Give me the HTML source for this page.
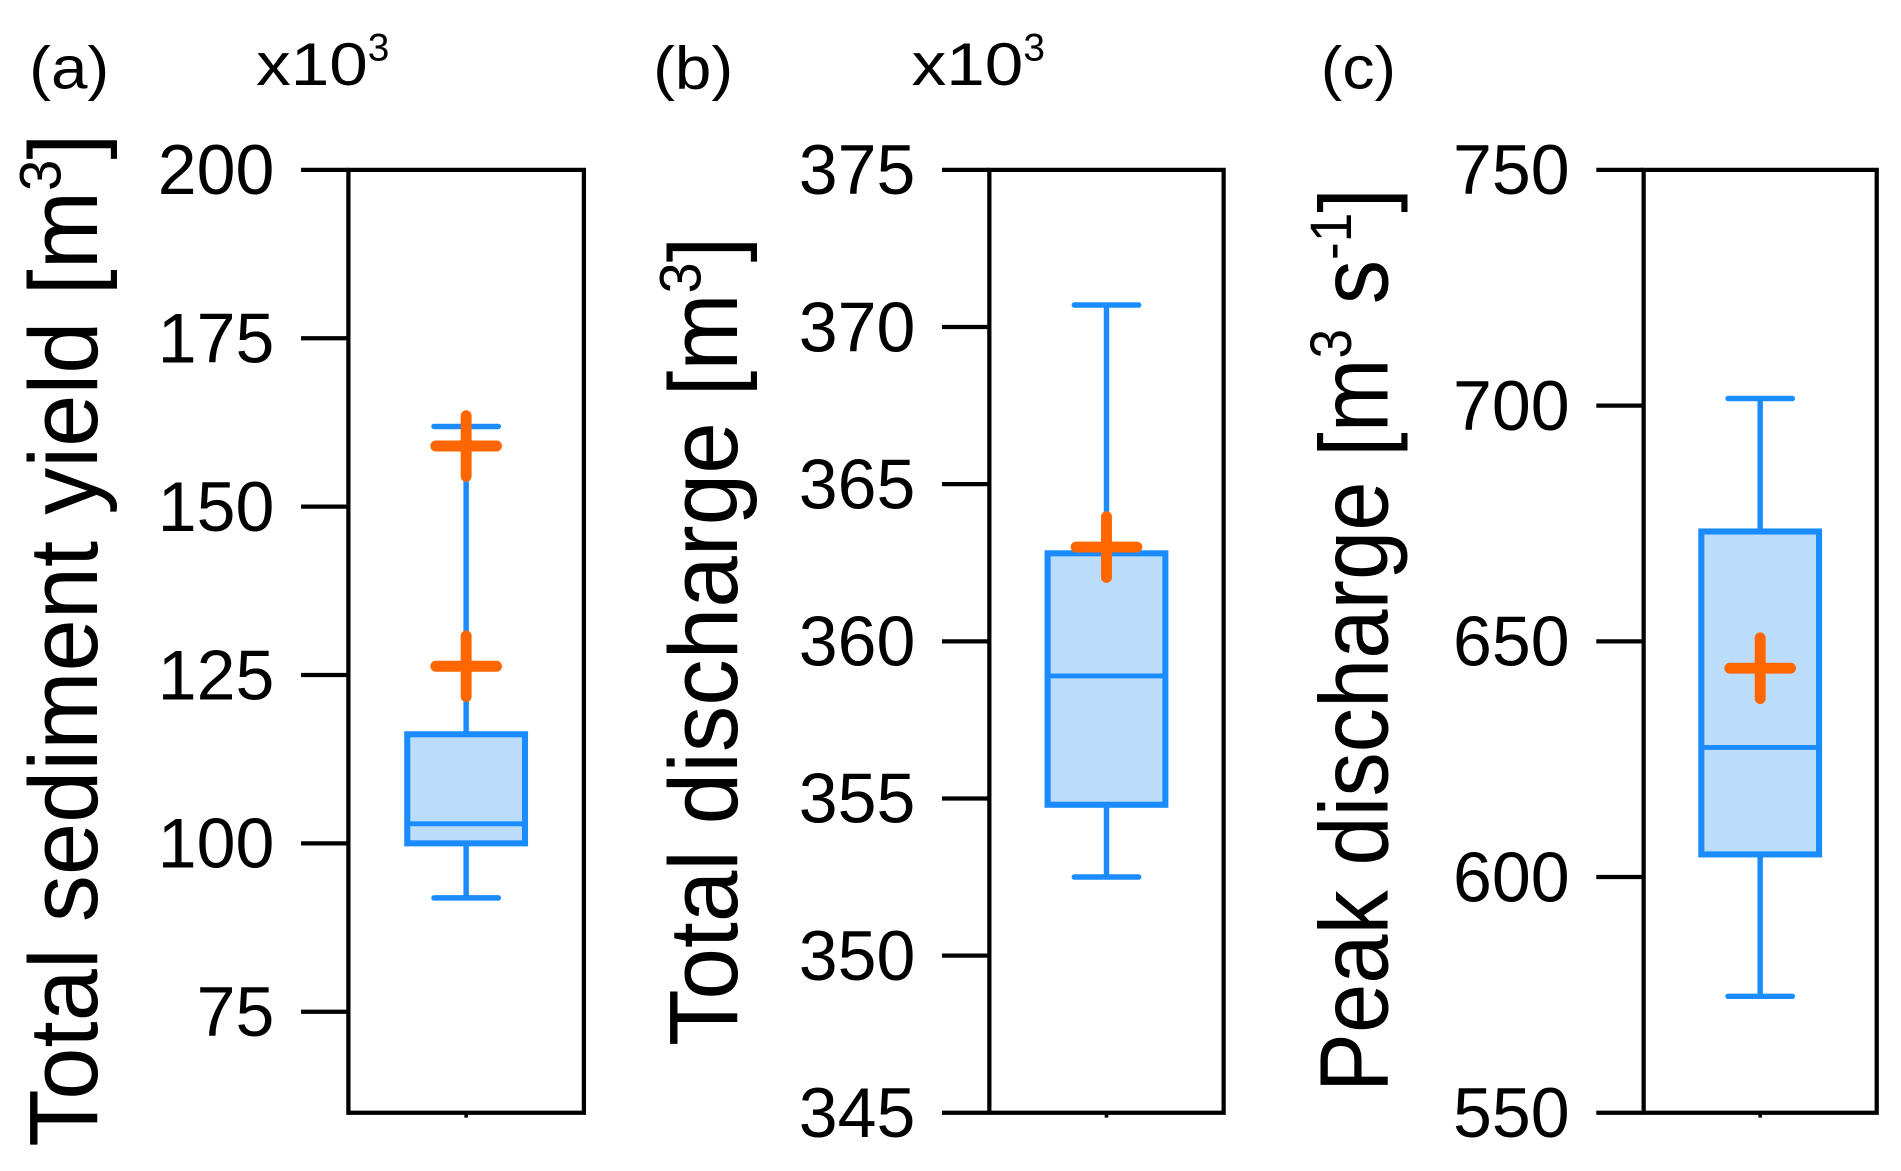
<!DOCTYPE html>
<html><head><meta charset="utf-8"><style>
html,body{margin:0;padding:0;background:#fff;}
svg{display:block;}
text{font-family:"Liberation Sans",sans-serif;fill:#000;}
</style></head><body>
<svg id="chart" width="1901" height="1171" viewBox="0 0 1566 965" preserveAspectRatio="none" xmlns="http://www.w3.org/2000/svg">
<g>
<text x="24" y="73" font-size="50" textLength="66" lengthAdjust="spacingAndGlyphs">(a)</text>
<text x="211" y="70" font-size="50"><tspan textLength="92" lengthAdjust="spacingAndGlyphs">x10</tspan><tspan font-size="32" dy="-20">3</tspan></text>
<text x="538" y="73" font-size="50" textLength="66" lengthAdjust="spacingAndGlyphs">(b)</text>
<text x="751" y="70" font-size="50"><tspan textLength="92" lengthAdjust="spacingAndGlyphs">x10</tspan><tspan font-size="32" dy="-20">3</tspan></text>
<text x="1088" y="73" font-size="50" textLength="62" lengthAdjust="spacingAndGlyphs">(c)</text>
</g>
<text transform="translate(80,945) rotate(-90)" font-size="80" textLength="835" lengthAdjust="spacingAndGlyphs">Total sediment yield [m<tspan font-size="48" dy="-30">3</tspan><tspan dy="30">]</tspan></text>
<text transform="translate(607,862) rotate(-90)" font-size="80" textLength="667" lengthAdjust="spacingAndGlyphs">Total discharge [m<tspan font-size="48" dy="-30">3</tspan><tspan dy="30">]</tspan></text>
<text transform="translate(1143,900) rotate(-90)" font-size="80" textLength="745" lengthAdjust="spacingAndGlyphs">Peak discharge [m<tspan font-size="48" dy="-30">3</tspan><tspan dy="30"> s</tspan><tspan font-size="48" dy="-30">-1</tspan><tspan dy="30">]</tspan></text>
<g id="panels"></g>
</svg>
<script>
// Panel (a): total sediment yield, x10^3 m3
const ticksA = [200, 175, 150, 125, 100, 75];
const boxA = {min: 91.9, q1: 100, median: 102.9, q3: 116.2, max: 161.9};
const plusA = [159, 126.3];
// Panel (b): total discharge, x10^3 m3
const ticksB = [375, 370, 365, 360, 355, 350, 345];
const boxB = {min: 352.5, q1: 354.8, median: 358.9, q3: 362.8, max: 370.7};
const plusB = [363];
// Panel (c): peak discharge m3/s
const ticksC = [750, 700, 650, 600, 550];
const boxC = {min: 574.7, q1: 604.8, median: 627.5, q3: 673.3, max: 701.5};
const plusC = [644.3];

const NS = 'http://www.w3.org/2000/svg';
const root = document.getElementById('panels');
const TOP = 140, BOT = 917;
function mk(tag, attrs, parent) {
  const e = document.createElementNS(NS, tag);
  for (const k in attrs) e.setAttribute(k, attrs[k]);
  parent.appendChild(e);
  return e;
}
function panel(id, left, right, yMin, yMax, ticks, box, pluses) {
  const g = mk('g', {}, root);
  
  
  const y = v => BOT - (v - yMin) / (yMax - yMin) * (BOT - TOP);
  const cx = (left + right) / 2;
  const blue = '#1a8cff';
  ticks.forEach(t => {
    const tl = mk('line', {x1: left - 39, x2: left, y1: y(t), y2: y(t), stroke: '#000', 'stroke-width': 3.5}, g);
    
    
    const s = String(t);
    const tx = mk('text', {x: left - 61, y: y(t) + 20, 'font-size': 58, 'text-anchor': 'end', textLength: 32 * s.length, lengthAdjust: 'spacingAndGlyphs'}, g);
    tx.textContent = s;
    
    
  });
  const frame = mk('rect', {x: left, y: TOP, width: right - left, height: BOT - TOP, fill: 'none', stroke: '#000', 'stroke-width': 3.5}, g);
  
  
  const xt = mk('line', {x1: cx, x2: cx, y1: BOT, y2: BOT + 4, stroke: '#000', 'stroke-width': 3}, g);
  
  
  const bw = 97, cw = 53;
  const wh = mk('line', {x1: cx, x2: cx, y1: y(box.q3), y2: y(box.max), stroke: blue, 'stroke-width': 4.5}, g);
  
  
  const wl = mk('line', {x1: cx, x2: cx, y1: y(box.q1), y2: y(box.min), stroke: blue, 'stroke-width': 4.5}, g);
  
  
  const ch = mk('line', {x1: cx - cw/2, x2: cx + cw/2, y1: y(box.max), y2: y(box.max), stroke: blue, 'stroke-width': 4.5, 'stroke-linecap': 'round'}, g);
  
  
  const cl = mk('line', {x1: cx - cw/2, x2: cx + cw/2, y1: y(box.min), y2: y(box.min), stroke: blue, 'stroke-width': 4.5, 'stroke-linecap': 'round'}, g);
  
  
  const b = mk('rect', {x: cx - bw/2, y: y(box.q3), width: bw, height: y(box.q1) - y(box.q3), fill: '#bbdcfb', stroke: blue, 'stroke-width': 5}, g);
  
  
  const m = mk('line', {x1: cx - bw/2, x2: cx + bw/2, y1: y(box.median), y2: y(box.median), stroke: blue, 'stroke-width': 4}, g);
  
  
  pluses.forEach((v, i) => {
    const p = mk('path', {d: `M${cx-25},${y(v)}H${cx+25}M${cx},${y(v)-25}V${y(v)+25}`, stroke: '#ff6600', 'stroke-width': 9, 'stroke-linecap': 'round', fill: 'none'}, g);
    
    
  });
}
panel('a', 287, 481, 60, 200, ticksA, boxA, plusA);
panel('b', 815, 1008, 345, 375, ticksB, boxB, plusB);
panel('c', 1354, 1546, 550, 750, ticksC, boxC, plusC);
</script>
</body></html>
